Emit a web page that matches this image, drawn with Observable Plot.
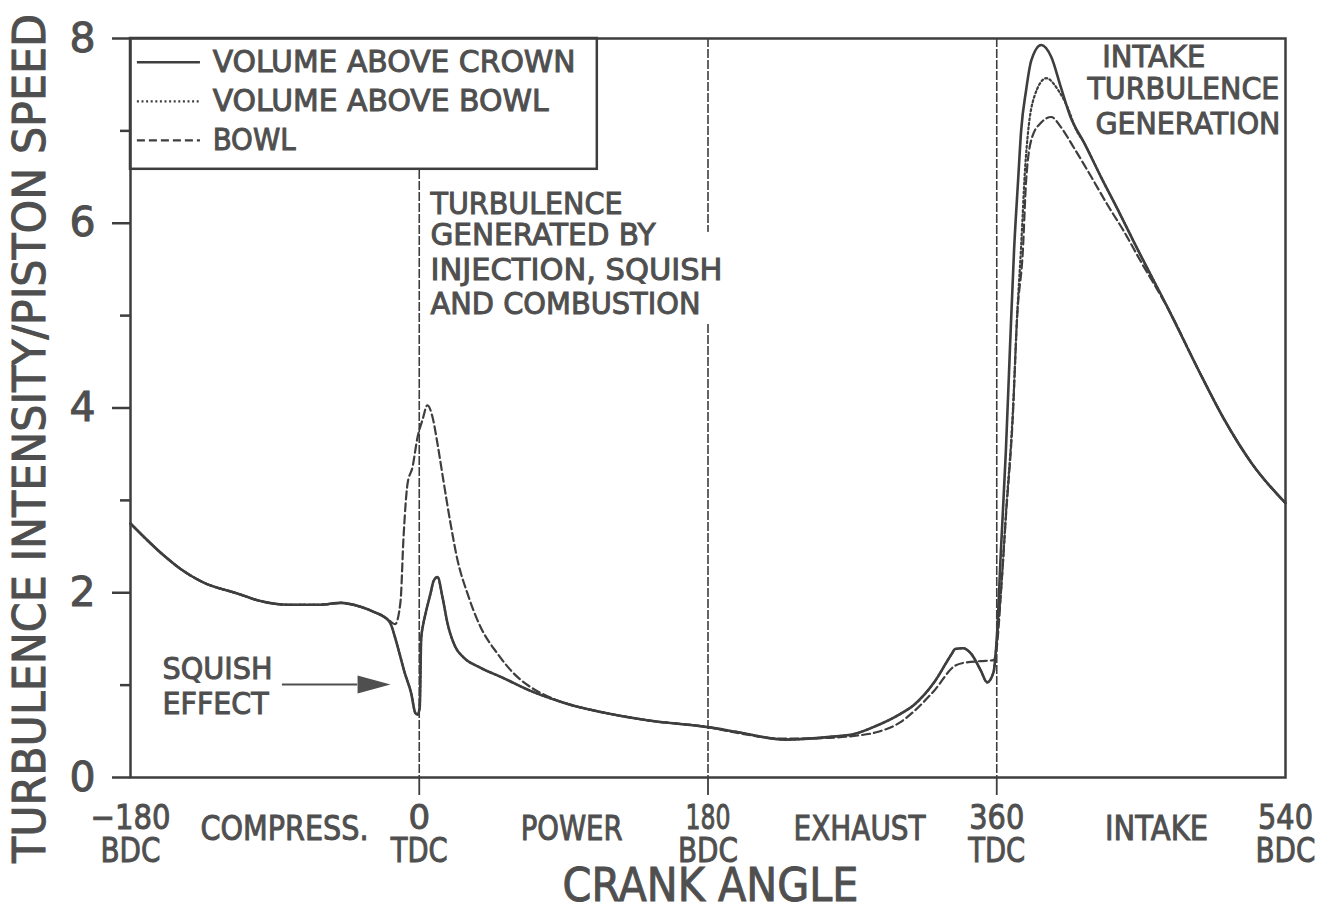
<!DOCTYPE html>
<html><head><meta charset="utf-8">
<script src="https://cdn.jsdelivr.net/npm/d3@7"></script>
<script src="https://cdn.jsdelivr.net/npm/@observablehq/plot@0.6"></script>
<style>html,body{margin:0;padding:0;background:#fff;overflow:hidden}</style>
</head><body><div id="chart"></div>
<script>
// ---- data (crank angle in degrees, turbulence intensity / piston speed) ----
const crownAngle = [-180,-159,-149,-135,-113,-99,-82,-62,-49,-37,-28,-22,-18,-14,-9,-5,-2.5,-1,0.3,1.2,2.5,4,7,9,11.4,14.5,17.6,22.6,27.6,38,52,69,90,100,113,142,180,199,228,256,271,285,300,308,321,332,334,339,344,350,354,358,360,362.6,365.7,368.2,370.8,373.3,375.2,378.3,381.5,387.7,394,400,406,414.5,425,435.7,445.7,467,487.5,502,519,540];
const crownValue = [2.75,2.40,2.26,2.115,1.99,1.91,1.87,1.87,1.89,1.85,1.79,1.74,1.67,1.45,1.13,0.91,0.70,0.68,0.76,1.50,1.66,1.78,1.99,2.13,2.17,1.95,1.67,1.41,1.30,1.19,1.08,0.94,0.81,0.76,0.71,0.62,0.545,0.49,0.41,0.44,0.47,0.56,0.69,0.78,1.03,1.34,1.39,1.40,1.34,1.16,1.03,1.14,1.50,2.46,3.54,4.63,5.71,6.46,7.0,7.44,7.76,7.93,7.8,7.47,7.15,6.87,6.5,6.14,5.79,5.07,4.35,3.87,3.40,2.97];

const aboveBowlAngle = [-180,-159,-149,-135,-113,-99,-82,-62,-49,-37,-28,-22,-18,-14,-9,-5,-2.5,-1,0.3,1.2,2.5,4,7,9,11.4,14.5,17.6,22.6,27.6,38,52,69,90,100,113,142,180,199,228,256,271,285,300,308,321,332,334,339,344,350,354,358,360,363,365.7,370,372.7,375.2,377.7,379.6,383.4,390.9,398.3,404.5,409,414.5,425,435.7,445.7,467,487.5,502,519,540];
const aboveBowlValue = [2.75,2.40,2.26,2.115,1.99,1.91,1.87,1.87,1.89,1.85,1.79,1.74,1.67,1.45,1.13,0.91,0.70,0.68,0.76,1.50,1.66,1.78,1.99,2.13,2.17,1.95,1.67,1.41,1.30,1.19,1.08,0.94,0.81,0.76,0.71,0.62,0.545,0.49,0.41,0.44,0.47,0.56,0.69,0.78,1.03,1.34,1.39,1.40,1.34,1.16,1.03,1.14,1.48,2.1,2.85,3.95,5.0,5.75,6.6,7.0,7.37,7.57,7.44,7.24,7.03,6.87,6.5,6.14,5.79,5.07,4.35,3.87,3.40,2.97];

const bowlAngle = [-180,-159,-149,-135,-113,-99,-82,-62,-49,-37,-28,-20,-15,-11.7,-9.8,-7.3,-4.2,-1.1,2,5.1,8.3,11.4,15.1,19.5,23.9,30.1,38.2,48.8,58.7,69.3,79.9,90,100,113,142,180,199,228,256,271,285,300,308,321,334,339,350,358,360,363,365.7,370,372.7,376.3,378.3,382,387.7,394,400,408,419,429,439,450,467,487.5,502,519,540];
const bowlValue = [2.75,2.40,2.26,2.115,1.99,1.91,1.87,1.87,1.89,1.85,1.79,1.72,1.66,1.90,2.60,3.18,3.36,3.68,3.87,4.03,3.90,3.61,3.21,2.75,2.35,1.99,1.63,1.34,1.13,0.98,0.88,0.81,0.76,0.71,0.62,0.545,0.48,0.42,0.43,0.45,0.49,0.60,0.71,0.94,1.21,1.24,1.26,1.27,1.41,2.1,2.82,3.9,4.98,5.71,6.46,6.93,7.09,7.15,7.04,6.82,6.50,6.20,5.92,5.58,5.07,4.35,3.87,3.40,2.97];

const seriesNames = ["VOLUME ABOVE CROWN", "VOLUME ABOVE BOWL", "BOWL"];
const xTickValues = [-180, 0, 180, 360, 540];
const xTickLabels = ["−180\nBDC", "0\nTDC", "180\nBDC", "360\nTDC", "540\nBDC"];
const strokeMarkers = [0, 180, 360];
const yMajorTicks = [0, 2, 4, 6, 8];
const yMinorTicks = [1, 3, 5, 7];
const phaseNames = ["COMPRESS.", "POWER", "EXHAUST", "INTAKE"];
const phaseCenter = [-84, 95, 274.5, 459.6];
const injectionNote = ["TURBULENCE", "GENERATED BY", "INJECTION, SQUISH", "AND COMBUSTION"];
const intakeNote = ["INTAKE", "TURBULENCE", "GENERATION"];
const squishNote = ["SQUISH", "EFFECT"];
const xTitle = "CRANK ANGLE";
const yTitle = "TURBULENCE INTENSITY/PISTON SPEED";

// ---- build tables ----
const toRows = (name, xs, ys) => xs.map((a, i) => ({series: name, angle: a, value: ys[i]}));
const crown = toRows(seriesNames[0], crownAngle, crownValue);
const aboveBowl = toRows(seriesNames[1], aboveBowlAngle, aboveBowlValue);
const bowl = toRows(seriesNames[2], bowlAngle, bowlValue);

// ---- styles / layout (in data units of the chart) ----
const ink = "#3e3e3e";
const textInk = "#4f4f4f";
const dashes = {solid: null, dotted: "2,2.6", dashed: "8,4"};
const legendBox = {x1: -180, x2: 111, y1: 6.584, y2: 8};
const legendRowY = [7.742, 7.320, 6.898];
const legendDash = [dashes.solid, dashes.dotted, dashes.dashed];
const legendLine = {x1: -175.7, x2: -136.4, textX: -128.8};
const injectionPos = {x: 7.0, y: [6.335, 5.999, 5.620, 5.252]};
const injectionMask = {x1: 5, x2: 196, y1: 4.916, y2: 5.901};
const intakePos = {x: [425.8, 416.5, 421.5], y: [7.926, 7.580, 7.201]};
const squishPos = {x: -160, y: [1.299, 0.920]};
const arrowPos = {x1: -85.3, x2: -38.4, tip: -17.9, y: 1.007};

const arrowHead = {draw(ctx) { ctx.moveTo(0, 0); ctx.lineTo(-33, -9); ctx.lineTo(-33, 9); ctx.closePath(); }};

const fs = 30;

const marks = [
  Plot.ruleX(strokeMarkers, {x: d => d, stroke: ink, strokeWidth: 1.6, strokeDasharray: "9,2"}),
  Plot.line(aboveBowl, {x: "angle", y: "value", stroke: ink, strokeWidth: 2.2, strokeDasharray: dashes.dotted, curve: "monotone-x"}),
  Plot.line(bowl, {x: "angle", y: "value", stroke: ink, strokeWidth: 2.2, strokeDasharray: dashes.dashed, curve: "monotone-x"}),
  Plot.line(crown, {x: "angle", y: "value", stroke: ink, strokeWidth: 2.6, curve: "monotone-x"}),
  // legend
  Plot.rect([legendBox], {x1: "x1", x2: "x2", y1: "y1", y2: "y2", fill: "white", stroke: ink, strokeWidth: 2.5}),
  ...seriesNames.map((name, i) => Plot.ruleY([legendRowY[i]], {y: d => d, x1: legendLine.x1, x2: legendLine.x2, stroke: ink, strokeWidth: i === 0 ? 2.5 : 2.2, strokeDasharray: legendDash[i]})),
  Plot.text(seriesNames, {x: legendLine.textX, y: (d, i) => legendRowY[i], text: d => d, textAnchor: "start", lineAnchor: "middle", fontSize: fs, fill: textInk}),
  // annotations
  Plot.rect([injectionMask], {x1: "x1", x2: "x2", y1: "y1", y2: "y2", fill: "white"}),
  Plot.text(injectionNote, {x: injectionPos.x, y: (d, i) => injectionPos.y[i], text: d => d, textAnchor: "start", lineAnchor: "top", fontSize: fs, fill: textInk}),
  Plot.text(intakeNote, {x: (d, i) => intakePos.x[i], y: (d, i) => intakePos.y[i], text: d => d, textAnchor: "start", lineAnchor: "top", fontSize: fs, fill: textInk}),
  Plot.text(squishNote, {x: squishPos.x, y: (d, i) => squishPos.y[i], text: d => d, textAnchor: "start", lineAnchor: "top", fontSize: fs, fill: textInk}),
  Plot.ruleY([arrowPos], {y: "y", x1: "x1", x2: "x2", stroke: textInk, strokeWidth: 2.2}),
  Plot.dot([arrowPos], {x: "tip", y: "y", symbol: arrowHead, fill: textInk, stroke: "none", r: 10}),
  // frame & axes
  Plot.frame({stroke: ink, strokeWidth: 2.5}),
  Plot.axisY({ticks: yMajorTicks, tickSize: 18, tickPadding: 17, fontSize: 41, strokeWidth: 2.5, stroke: ink, fill: textInk, tickFormat: d => String(d)}),
  Plot.axisY({ticks: yMinorTicks, tickSize: 10, strokeWidth: 2.5, stroke: ink, tickFormat: () => ""}),
  Plot.axisX({ticks: strokeMarkers, tickSize: 18, strokeWidth: 1.8, stroke: ink, tickFormat: () => ""}),
  Plot.axisX({ticks: xTickValues, tickSize: 0, tickPadding: 28, fontSize: 34, lineHeight: 0.97, fill: textInk, tickFormat: d => xTickLabels[xTickValues.indexOf(d)]}),
  Plot.text(phaseNames, {x: (d, i) => phaseCenter[i], text: d => d, frameAnchor: "bottom", lineAnchor: "top", dy: 38, fontSize: 34, fill: textInk}),
  Plot.text([xTitle], {text: d => d, frameAnchor: "bottom", lineAnchor: "top", dx: 2.5, dy: 90, fontSize: 47, fill: textInk}),
  Plot.text([yTitle], {text: d => d, frameAnchor: "left", textAnchor: "middle", lineAnchor: "middle", rotate: -90, dx: -100, dy: 30.5, fontSize: 44, fill: textInk})
];

const chart = Plot.plot({
  width: 1322,
  height: 904,
  marginLeft: 130,
  marginRight: 37,
  marginTop: 38,
  marginBottom: 127,
  x: {domain: [-180, 540], label: null},
  y: {domain: [0, 8], label: null},
  style: {background: "white", color: textInk, fontFamily: "DejaVu Sans", overflow: "visible"},
  marks
});

// stretch texts to the widths of the original lettering, and give them the plotter-pen weight
const textWidths = {
  "VOLUME ABOVE CROWN": 363, "VOLUME ABOVE BOWL": 336, "BOWL": 83,
  "TURBULENCE": 192, "GENERATED BY": 225, "INJECTION, SQUISH": 292, "AND COMBUSTION": 270,
  "INTAKE": 103, "GENERATION": 185, "SQUISH": 110, "EFFECT": 106,
  "−180": 80, "BDC": 60, "TDC": 57, "180": 45, "360": 55, "540": 55,
  "COMPRESS.": 168, "POWER": 102, "EXHAUST": 132, "CRANK ANGLE": 296,
  "TURBULENCE INTENSITY/PISTON SPEED": 849
};
chart.querySelectorAll("text").forEach(el => {
  el.setAttribute("stroke", textInk);
  el.setAttribute("stroke-width", "1");
  el.setAttribute("paint-order", "stroke");
});
chart.querySelectorAll("text, tspan").forEach(el => {
  if (el.tagName.toLowerCase() === "text" && el.querySelector("tspan")) return;
  const w = textWidths[el.textContent];
  if (w) { el.setAttribute("textLength", w); el.setAttribute("lengthAdjust", "spacingAndGlyphs"); }
});

document.getElementById("chart").appendChild(chart);
</script>
</body></html>
